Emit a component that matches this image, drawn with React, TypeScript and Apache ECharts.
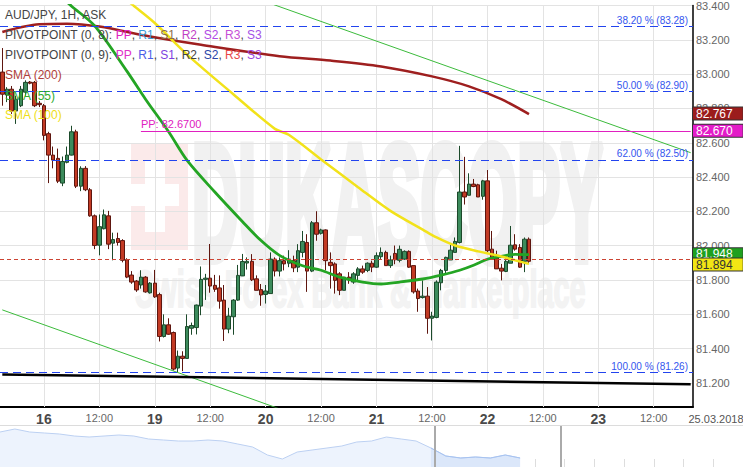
import React, { useEffect, useRef } from 'react';
import * as echarts from 'echarts';

const FONT = '"Liberation Sans", Arial, Helvetica, sans-serif';

// ---- time axis: hourly candles, weekend removed ----
const TRADING_DAYS = ['15', '16', '19', '20', '21', '22', '23'];
const FIRST_HOUR = 15; // first category: 15 Mar, 15:00
const CATEGORY_COUNT = 150;

// ---- candles (AUD/JPY 1H ASK) ----
const OPENS = [
  83.012, 82.878, 82.912, 82.785, 82.816, 82.895, 82.954, 82.952, 82.830, 82.816,
  82.653, 82.528, 82.509, 82.365, 82.486, 82.528, 82.664, 82.347, 82.451, 82.326,
  82.174, 82.003, 82.099, 82.174, 82.015, 82.042, 82.030, 81.919, 81.829, 81.794,
  81.771, 81.817, 81.725, 81.782, 81.715, 81.471, 81.539, 81.494, 81.287, 81.356,
  81.343, 81.519, 81.523, 81.648, 81.804, 81.811, 81.769, 81.754, 81.683, 81.514,
  81.586, 81.683, 81.824, 81.899, 81.909, 81.807, 81.744, 81.716, 81.721, 81.922,
  81.852, 81.913, 81.898, 81.913, 81.875, 81.961, 82.019, 81.852, 82.134, 82.072,
  82.092, 81.903, 81.894, 81.836, 81.740, 81.817, 81.788, 81.827, 81.865, 81.856,
  81.898, 81.875, 81.936, 81.961, 81.884, 81.955, 81.915, 81.922, 81.967, 81.884,
  81.736, 81.698, 81.706, 81.577, 81.582, 81.784, 81.856, 81.917, 81.961, 82.019,
  82.313, 82.294, 82.359, 82.355, 82.288, 82.378, 81.980, 81.928, 81.869, 81.850,
  81.898, 82.005, 81.990, 81.909, 82.038,
];
const CLOSES = [
  82.883, 82.912, 82.785, 82.854, 82.912, 82.952, 82.947, 82.816, 82.822, 82.643,
  82.528, 82.499, 82.376, 82.491, 82.528, 82.664, 82.347, 82.451, 82.326, 82.174,
  82.001, 82.111, 82.180, 82.009, 82.036, 82.019, 81.915, 81.817, 81.788, 81.742,
  81.817, 81.731, 81.782, 81.702, 81.471, 81.539, 81.484, 81.281, 81.356, 81.343,
  81.529, 81.535, 81.654, 81.804, 81.811, 81.765, 81.746, 81.677, 81.514, 81.590,
  81.683, 81.827, 81.908, 81.909, 81.801, 81.740, 81.713, 81.736, 81.922, 81.852,
  81.913, 81.894, 81.922, 81.871, 81.971, 82.025, 81.852, 82.134, 82.067, 82.092,
  81.913, 81.884, 81.798, 81.740, 81.817, 81.801, 81.836, 81.865, 81.846, 81.898,
  81.875, 81.942, 81.961, 81.884, 81.917, 81.918, 81.979, 81.967, 81.875, 81.731,
  81.692, 81.706, 81.577, 81.590, 81.788, 81.856, 81.932, 81.974, 82.025, 82.313,
  82.284, 82.359, 82.345, 82.284, 82.378, 81.971, 81.932, 81.865, 81.852, 81.909,
  82.003, 81.980, 81.875, 82.038, 81.909,
];
const LOWS = [
  82.816, 82.837, 82.768, 82.710, 82.808, 82.874, 82.941, 82.808, 82.808, 82.614,
  82.365, 82.451, 82.365, 82.347, 82.480, 82.526, 82.336, 82.318, 82.318, 82.169,
  81.980, 81.944, 82.095, 81.980, 81.915, 82.001, 81.903, 81.811, 81.778, 81.731,
  81.750, 81.726, 81.721, 81.696, 81.442, 81.465, 81.481, 81.273, 81.261, 81.269,
  81.343, 81.481, 81.483, 81.595, 81.684, 81.726, 81.731, 81.633, 81.445, 81.490,
  81.481, 81.679, 81.823, 81.861, 81.794, 81.740, 81.650, 81.663, 81.721, 81.821,
  81.821, 81.856, 81.875, 81.846, 81.846, 81.932, 81.731, 81.846, 82.029, 82.065,
  81.856, 81.750, 81.721, 81.712, 81.740, 81.778, 81.778, 81.798, 81.836, 81.846,
  81.846, 81.871, 81.923, 81.884, 81.871, 81.892, 81.903, 81.917, 81.871, 81.721,
  81.615, 81.692, 81.487, 81.448, 81.577, 81.740, 81.836, 81.917, 81.961, 82.013,
  82.240, 82.294, 82.341, 82.284, 82.268, 81.961, 81.922, 81.865, 81.798, 81.846,
  81.898, 81.971, 81.871, 81.846, 81.898,
];
const HIGHS = [
  83.152, 82.924, 82.931, 82.874, 82.931, 82.964, 82.960, 82.960, 82.843, 82.826,
  82.664, 82.578, 82.566, 82.520, 82.578, 82.699, 82.676, 82.463, 82.464, 82.336,
  82.182, 82.182, 82.211, 82.203, 82.076, 82.076, 82.038, 81.927, 81.852, 81.800,
  81.857, 81.823, 81.788, 81.859, 81.726, 81.600, 81.577, 81.500, 81.389, 81.385,
  81.600, 81.552, 81.657, 81.879, 81.836, 82.010, 81.830, 81.827, 81.771, 81.638,
  81.688, 81.888, 81.952, 81.932, 81.951, 81.827, 81.777, 81.771, 81.961, 81.932,
  81.932, 81.942, 81.974, 81.942, 82.009, 82.086, 82.067, 82.144, 82.201, 82.099,
  82.095, 81.961, 81.903, 81.846, 81.817, 81.846, 81.846, 81.875, 81.884, 81.903,
  81.913, 81.961, 81.990, 81.971, 81.942, 82.001, 82.001, 81.973, 81.973, 81.884,
  81.750, 81.798, 81.759, 81.615, 81.798, 81.865, 81.936, 82.013, 82.048, 82.582,
  82.518, 82.422, 82.389, 82.361, 82.384, 82.441, 82.086, 81.971, 81.894, 81.942,
  82.115, 82.067, 82.009, 82.048, 82.048,
];

// ---- moving averages: [candle index, value] ----
const SMA200 = [
  [0, 83.246], [8, 83.291], [14, 83.294], [21, 83.277], [32, 83.219], [43, 83.171],
  [60, 83.104], [71, 83.079], [82, 83.045], [93, 82.987], [101, 82.929], [108, 82.854], [114, 82.767],
];
const SMA55 = [
  [10, 83.52], [15, 83.396], [20, 83.281], [27, 83.016], [31, 82.854], [36, 82.664], [40, 82.497],
  [46, 82.313], [52, 82.140], [56, 82.030], [60, 81.944], [65, 81.883], [69, 81.857], [73, 81.817],
  [78, 81.788], [82, 81.777], [86, 81.788], [91, 81.806], [95, 81.829], [99, 81.857], [102, 81.886],
  [105, 81.921], [108, 81.938], [111, 81.950], [114, 81.948],
];
const SMA100 = [
  [25, 83.474], [28, 83.408], [33, 83.298], [40, 83.114], [50, 82.883], [59, 82.681], [62, 82.647],
  [69, 82.503], [77, 82.341], [84, 82.203], [91, 82.094], [94, 82.048], [98, 82.001], [103, 81.967],
  [107, 81.944], [111, 81.915], [114, 81.894],
];

// ---- drawn trend lines ----
const UPPER_CHANNEL = [[55, 83.441], [149, 82.542]];
const LOWER_CHANNEL = [[0, 81.626], [62, 81.030]];
const SUPPORT_LINE = [[0, 81.250], [149, 81.192]];

// ---- Fibonacci levels ----
const FIB_PERCENTS = ['38.20', '50.00', '62.00', '100.00'];
const FIB_LEVELS = [83.28, 82.90, 82.50, 81.26];

// ---- pivot / price markers ----
const PIVOT_PP = 82.67;
const PIVOT_START_INDEX = 30;
const CURRENT_PRICE = 81.917;
const TAG_VALUES = [82.767, 82.670, 81.948, 81.894];

// ---- legend ----
const PIVOT_NAMES = ['PP', 'R1', 'S1', 'R2', 'S2', 'R3', 'S3'];

// ---- navigator ----
const NAV_VALUES = [
  35, 38, 35, 34, 33, 31, 30, 31, 32, 31, 28, 27, 26, 26, 27, 26, 23, 20, 12, 8,
  15, 17, 19, 21, 25, 26, 30, 28, 26, 19, 11, 9, 10, 9, 12, 9,
];
const NAV_COUNT = 51;
const NAV_SEL_START = 29;

function buildCategories(): string[] {
  const cats: string[] = [];
  let d = 0;
  let h = FIRST_HOUR;
  while (cats.length < CATEGORY_COUNT) {
    cats.push(`${TRADING_DAYS[d]} ${String(h).padStart(2, '0')}:00`);
    h++;
    if (h === 24) { h = 0; d++; }
  }
  return cats;
}

function pivotText(prefix: string, colors: string[]) {
  const rich: any = { t: { fill: '#444', color: '#444', fontSize: 12, fontFamily: FONT } };
  let text = `{t|${prefix}: }`;
  PIVOT_NAMES.forEach((n, i) => {
    rich['c' + i] = { fill: colors[i], color: colors[i], fontSize: 12, fontFamily: FONT };
    text += `{c${i}|${n}}` + (i < PIVOT_NAMES.length - 1 ? '{t|, }' : '');
  });
  return { text, rich };
}

export default function App() {
  const ref = useRef<HTMLDivElement>(null);

  useEffect(() => {
    const chart = echarts.init(ref.current!, null, { renderer: 'svg' });
    const categories = buildCategories();
    const isMajor = (c: string) => {
      const hh = c.split(' ')[1];
      return hh === '00:00' || hh === '12:00';
    };
    const candles = OPENS.map((o, i) => [o, CLOSES[i], LOWS[i], HIGHS[i]]);

    const p8 = pivotText('PIVOTPOINT (0, 8)', ['#e020c0', '#3a9ad9', '#8a6d4a', '#c13fc5', '#b14ae6', '#c64fd6', '#a452e6']);
    const p9 = pivotText('PIVOTPOINT (0, 9)', ['#e030c8', '#4a5ee8', '#7e3fe0', '#444444', '#2c44a8', '#e84848', '#9b45e0']);
    const tagColors = [
      { bg: '#9b1c1c', fg: '#fff' },
      { bg: '#e31cc8', fg: '#fff' },
      { bg: '#1fa01f', fg: '#fff' },
      { bg: '#f2e614', fg: '#333' },
    ];
    const navCats = Array.from({ length: NAV_COUNT }, (_, i) => String(i));

    const legendLine = (y: number, text: string, rich: any) => ({
      type: 'text', x: 5, y, z: 20,
      style: { text, rich, verticalAlign: 'middle', font: `12px ${FONT}`, fill: '#444' },
    });

    const option: any = {
      animation: false,
      backgroundColor: '#ffffff',
      textStyle: { fontFamily: FONT },
      grid: [
        { left: 0, top: 0, width: 693, height: 407 },
        { left: 0, top: 426, width: 743, height: 41 },
      ],
      xAxis: [
        {
          type: 'category', gridIndex: 0, data: categories, boundaryGap: true,
          axisLine: { show: true, lineStyle: { color: '#000', width: 2 } },
          axisTick: { show: false },
          splitLine: { show: false },
          axisLabel: {
            margin: 5,
            interval: (_i: number, v: string) => isMajor(v),
            formatter: (v: string) => {
              const [day, hh] = v.split(' ');
              return hh === '00:00' ? `{d|${day}}` : `{t|12:00}`;
            },
            rich: {
              d: { fontWeight: 'bold', fontSize: 14, color: '#4a4a4a', fontFamily: FONT },
              t: { fontSize: 11, color: '#666', fontFamily: FONT },
            },
          },
        },
        {
          type: 'category', gridIndex: 1, data: navCats, boundaryGap: false,
          axisLine: { show: false },
          axisTick: { show: true, inside: true, length: 8, interval: 1, lineStyle: { color: '#dddddd' } },
          axisLabel: { show: false },
          splitLine: { show: false },
        },
      ],
      yAxis: [
        {
          type: 'value', gridIndex: 0, position: 'right', min: 81.06, max: 83.4, splitNumber: 12,
          axisLine: { show: true, lineStyle: { color: '#000', width: 1.5 } },
          axisTick: { show: false },
          axisLabel: {
            margin: 3, color: '#666', fontSize: 11, fontFamily: FONT,
            formatter: (v: number) => (Math.abs(v / 0.2 - Math.round(v / 0.2)) < 1e-6 ? v.toFixed(3) : ''),
          },
          splitLine: { show: true, lineStyle: { color: '#e3e3e3', width: 1 } },
        },
        { type: 'value', gridIndex: 1, min: 0, max: 41, show: false },
      ],
      series: [
        {
          type: 'line', data: [], silent: true,
          markLine: {
            z: 1, silent: true, symbol: ['none', 'none'], label: { show: false },
            lineStyle: { color: '#e3e3e3', width: 1, type: 'solid' },
            data: categories.filter(isMajor).map((c) => ({ xAxis: c })),
          },
        },
        {
          type: 'candlestick', data: candles, barWidth: 4, z: 3,
          itemStyle: {
            color: '#3c8b5c', color0: '#c23a24',
            borderColor: '#1c4a2b', borderColor0: '#5e160f', borderWidth: 1,
          },
        },
        {
          type: 'line', data: SMA200, showSymbol: false, smooth: 0.3, z: 4,
          lineStyle: { color: '#9e1f1f', width: 2.5 },
        },
        {
          type: 'line', data: SMA55, showSymbol: false, smooth: 0.3, z: 4,
          lineStyle: { color: '#24a524', width: 2.8 },
        },
        {
          type: 'line', data: SMA100, showSymbol: false, smooth: 0.3, z: 4,
          lineStyle: { color: '#f2e21a', width: 2.5 },
        },
        { type: 'line', data: UPPER_CHANNEL, showSymbol: false, z: 4, lineStyle: { color: '#3cbb3c', width: 1 } },
        { type: 'line', data: LOWER_CHANNEL, showSymbol: false, z: 4, lineStyle: { color: '#3cbb3c', width: 1 } },
        { type: 'line', data: SUPPORT_LINE, showSymbol: false, z: 4, lineStyle: { color: '#000', width: 2.5 } },
        {
          type: 'line', data: [], silent: true,
          markLine: {
            z: 6, silent: true, symbol: ['none', 'none'],
            lineStyle: { color: '#2244ee', width: 1, type: [8, 5] },
            label: {
              show: true, position: 'insideEndTop', distance: [5, 1],
              color: '#3355ee', fontSize: 10, fontFamily: FONT,
            },
            data: FIB_LEVELS.map((lv, i) => ({
              yAxis: lv,
              label: { formatter: `${FIB_PERCENTS[i]} % (${lv.toFixed(2)})` },
            })),
          },
        },
        {
          type: 'line', data: [], silent: true,
          markLine: {
            z: 6, silent: true, symbol: ['none', 'none'],
            lineStyle: { color: '#e020c0', width: 1, type: 'solid' },
            label: {
              show: true, position: 'insideStartTop', distance: [0, 1],
              color: '#e020c0', fontSize: 11, fontFamily: FONT,
              formatter: `PP: ${PIVOT_PP.toFixed(4)}`,
            },
            data: [[
              { coord: [categories[PIVOT_START_INDEX], PIVOT_PP] },
              { coord: [categories[CATEGORY_COUNT - 1], PIVOT_PP] },
            ]],
          },
        },
        {
          type: 'line', data: [], silent: true,
          markLine: {
            z: 6, silent: true, symbol: ['none', 'none'], label: { show: false },
            lineStyle: { color: '#cc4433', width: 1, type: [4, 3] },
            data: [{ yAxis: CURRENT_PRICE }],
          },
        },
        {
          type: 'line', data: [], silent: true,
          markLine: {
            z: 8, silent: true, symbol: ['none', 'none'],
            lineStyle: { color: 'rgba(0,0,0,0)', width: 0 },
            data: TAG_VALUES.map((v, i) => ({
              yAxis: v,
              label: {
                show: true, position: 'end', distance: 0, formatter: v.toFixed(3),
                backgroundColor: tagColors[i].bg, color: tagColors[i].fg,
                borderColor: '#333', borderWidth: 1,
                padding: [1, 10, 0, 3], fontSize: 12, lineHeight: 11, fontFamily: FONT,
              },
            })),
          },
        },
        {
          type: 'line', xAxisIndex: 1, yAxisIndex: 1, data: NAV_VALUES, showSymbol: false, silent: true,
          lineStyle: { color: '#bcd0f2', width: 1 }, areaStyle: { color: '#edf3fd', opacity: 1 },
        },
        {
          type: 'line', xAxisIndex: 1, yAxisIndex: 1, silent: true, showSymbol: false,
          data: NAV_VALUES.map((v, i) => (i >= NAV_SEL_START ? v : '-')),
          lineStyle: { color: '#a7c3f0', width: 1 }, areaStyle: { color: '#dbe7fa', opacity: 1 },
        },
      ],
      graphic: {
        elements: [
          // watermark
          { type: 'rect', z: -1, silent: true, shape: { x: 131, y: 143, width: 57, height: 107 }, style: { fill: '#fbeaea' } },
          { type: 'rect', z: -1, silent: true, shape: { x: 145, y: 160, width: 20, height: 72 }, style: { fill: '#ffffff' } },
          { type: 'rect', z: -1, silent: true, shape: { x: 131, y: 184, width: 48, height: 22 }, style: { fill: '#ffffff' } },
          {
            type: 'text', z: -1, silent: true, x: 192, y: 203, scaleX: 0.39,
            style: {
              text: 'DUKASCOPY', font: `bold 165px ${FONT}`, fill: '#f1f1f1',
              stroke: '#f1f1f1', lineWidth: 10, verticalAlign: 'middle',
            },
          },
          {
            type: 'text', z: -1, silent: true, x: 135, y: 289, scaleX: 0.555,
            style: {
              text: 'Swiss Forex Bank & Marketplace', font: `bold 52px ${FONT}`, fill: '#f3f3f3',
              stroke: '#f3f3f3', lineWidth: 2, verticalAlign: 'middle',
            },
          },
          // legend
          legendLine(15, '{t|AUD/JPY, 1H, ASK}', { t: { fill: '#444', color: '#444', fontSize: 12, fontFamily: FONT } }),
          legendLine(35, p8.text, p8.rich),
          legendLine(55, p9.text, p9.rich),
          legendLine(75, '{s|SMA (200)}', { s: { fill: '#b0403a', color: '#b0403a', fontSize: 12, fontFamily: FONT } }),
          legendLine(96, '{s|SMA (55)}', { s: { fill: '#2eaa2e', color: '#2eaa2e', fontSize: 12, fontFamily: FONT } }),
          legendLine(115, '{s|SMA (100)}', { s: { fill: '#efe015', color: '#efe015', fontSize: 12, fontFamily: FONT } }),
          // date at the right end of the time axis
          {
            type: 'text', x: 716, y: 419, silent: true,
            style: { text: '25.03.2018', font: `11px ${FONT}`, fill: '#555', align: 'center', verticalAlign: 'middle' },
          },
          // navigator frame
          { type: 'line', silent: true, shape: { x1: 0, y1: 425.5, x2: 743, y2: 425.5 }, style: { stroke: '#dcdcdc', lineWidth: 1 } },
          { type: 'line', silent: true, z: 10, shape: { x1: 435, y1: 426, x2: 435, y2: 467 }, style: { stroke: '#aaaaaa', lineWidth: 2 } },
          { type: 'line', silent: true, z: 10, shape: { x1: 561, y1: 426, x2: 561, y2: 467 }, style: { stroke: '#aaaaaa', lineWidth: 2 } },
        ],
      },
    };

    chart.setOption(option);
    return () => chart.dispose();
  }, []);

  return (
    <div
      ref={ref}
      style={{ position: 'fixed', left: 0, top: 0, width: 743, height: 467, background: '#fff' }}
    />
  );
}
